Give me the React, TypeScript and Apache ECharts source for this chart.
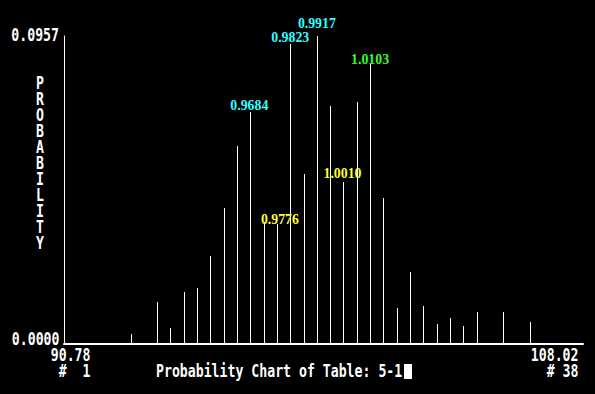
import React, { useEffect, useRef } from "react";
import * as echarts from "echarts";

// Bin numbers (1..38) that have a non-zero probability
const bins = [5, 7, 8, 9, 10, 11, 12, 13, 14, 15, 16, 17, 18, 19, 20, 21, 22, 23, 24, 25, 26, 27, 28, 29, 30, 31, 33, 35];
// Probability of each bin
const probs = [
  0.0031, 0.013, 0.005, 0.0162, 0.0174, 0.0273, 0.0423, 0.0615, 0.0721, 0.0379,
  0.0373, 0.0932, 0.0528, 0.0957, 0.074, 0.0503, 0.0752, 0.087, 0.0454, 0.0112,
  0.0224, 0.0118, 0.0062, 0.0081, 0.0056, 0.0099, 0.0099, 0.0068,
];

// Annotated bins
const labelBins = [14, 16, 17, 19, 21, 23];
const labelTexts = ["0.9684", "0.9776", "0.9823", "0.9917", "1.0010", "1.0103"];
const labelKinds = ["cyan", "yellow", "cyan", "cyan", "yellow", "green"];

// Axis texts
const yMin = 0;
const yMax = 0.0957;
const yMinText = "0.0000";
const yMaxText = "0.0957";
const xMinText = "90.78";
const xMaxText = "108.02";
const firstBinText = "#  1";
const lastBinText = "# 38";
const yTitle = "PROBABILITY";
const title = "Probability Chart of Table: 5-1";

// layout / style
const colorMap: Record<string, string> = { cyan: "#33FFFF", yellow: "#FFFF33", green: "#33FF33" };
const labelOffsets: number[][] = [[-1, -6], [3, -4], [0, -7], [0, -13], [-1, -9], [0, -5]];
const MONO = 'bold 13.2px "DejaVu Sans Mono"';
const SY = 1.35;

function monoText(text: string, x: number, y: number, align: string) {
  return {
    type: "text",
    x,
    y,
    scaleY: SY,
    silent: true,
    style: { text, font: MONO, fill: "#FFFFFF", textAlign: align, textVerticalAlign: "middle" },
  };
}

export default function App() {
  const ref = useRef<HTMLDivElement>(null);
  useEffect(() => {
    document.body.style.margin = "0";
    document.body.style.background = "#000";
    const chart = echarts.init(ref.current!, null, { renderer: "svg" });

    const graphics: any[] = [
      monoText(yMaxText, 59, 35, "right"),
      monoText(yMinText, 59.5, 339, "right"),
      monoText(xMinText, 90.5, 354.5, "right"),
      monoText(firstBinText, 90.5, 370.5, "right"),
      monoText(xMaxText, 578.5, 354.5, "right"),
      monoText(lastBinText, 578.5, 370.5, "right"),
      monoText(title, 156, 370.5, "left"),
      { type: "rect", shape: { x: 404, y: 364, width: 8, height: 15 }, style: { fill: "#FFFFFF" } },
    ];
    yTitle.split("").forEach((ch, i) => {
      graphics.push(monoText(ch, 40, 82.5 + 16 * i, "center"));
    });

    chart.setOption({
      animation: false,
      backgroundColor: "#000000",
      grid: { left: 64, right: 12, top: 36, bottom: 50, containLabel: false },
      xAxis: {
        type: "value",
        min: 0,
        max: 39,
        axisLine: { show: true, onZero: false, lineStyle: { color: "#FFFFFF", width: 2 } },
        axisTick: { show: false },
        axisLabel: { show: false },
        splitLine: { show: false },
      },
      yAxis: {
        type: "value",
        min: yMin,
        max: yMax,
        axisLine: { show: true, lineStyle: { color: "#FFFFFF", width: 1 } },
        axisTick: { show: false },
        axisLabel: { show: false },
        splitLine: { show: false },
      },
      graphic: graphics,
      series: [
        {
          type: "custom",
          data: bins.map((b, i) => [b, probs[i]]),
          renderItem: (params: any, api: any) => {
            const x = api.value(0);
            const y = api.value(1);
            const top = api.coord([x, y]);
            const bot = api.coord([x, 0]);
            const px = Math.round(top[0]) + 0.5;
            return {
              type: "line",
              shape: { x1: px, y1: bot[1], x2: px, y2: Math.round(top[1]) },
              style: { stroke: "#FFFFFF", lineWidth: 1 },
            };
          },
        },
        {
          type: "scatter",
          symbolSize: 0,
          silent: true,
          itemStyle: { color: "#000000", opacity: 1 },
          data: labelBins.map((b, i) => ({
            value: [b, probs[bins.indexOf(b)]],
            label: {
              show: true,
              position: "inside",
              formatter: labelTexts[i],
              color: colorMap[labelKinds[i]],
              textBorderWidth: 0,
              textBorderColor: "transparent",
              offset: labelOffsets[i],
              fontFamily: "Liberation Serif",
              fontWeight: "bold",
              fontSize: 13.8,
              verticalAlign: "middle",
              align: "center",
            },
          })),
        },
      ],
    });
    return () => chart.dispose();
  }, []);
  return <div ref={ref} style={{ position: "absolute", left: 0, top: 0, width: 595, height: 394 }} />;
}
